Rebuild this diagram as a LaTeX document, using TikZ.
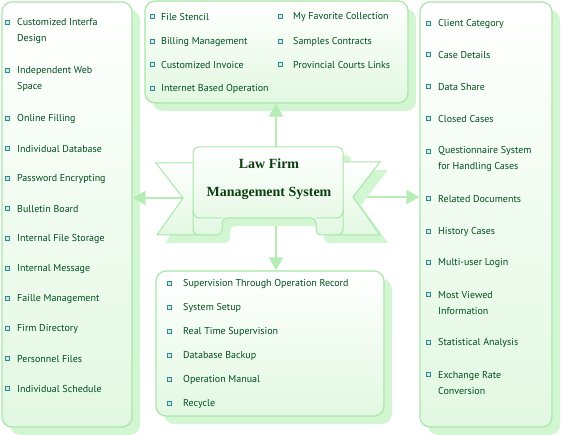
\documentclass[tikz,border=0pt]{standalone}
\usepackage{fontspec}
\setmainfont{PT Sans}
\newfontfamily\titlefont{Liberation Serif}
\usetikzlibrary{arrows.meta,positioning,calc,shadows}
\definecolor{itemgreen}{RGB}{0,78,30}
\definecolor{titlegreen}{RGB}{12,62,16}
\definecolor{edgegreen}{RGB}{168,230,168}
\definecolor{shadegreen}{RGB}{210,246,210}
\definecolor{fillgreen}{RGB}{226,248,226}
\definecolor{linkgreen}{RGB}{182,236,182}
\definecolor{dotteal}{RGB}{46,140,140}

\begin{document}
\begin{tikzpicture}[
    x=1pt, y=-1pt,
    panel/.style={rectangle, rounded corners=10pt, draw=edgegreen, line width=1.2pt, top color=white, bottom color=fillgreen, inner sep=0pt,
        drop shadow={shadow xshift=8pt, shadow yshift=-8pt, fill=shadegreen, opacity=1}},
    item/.style={anchor=west, align=left, inner sep=0pt, text=itemgreen, font=\fontsize{10}{16}\selectfont},
    dot/.style={rectangle, draw=dotteal, fill=dotteal!20, line width=0.8pt, minimum size=4pt, inner sep=0pt},
    link/.style={linkgreen, line width=2pt, -{Triangle[length=13pt, width=14pt]}},
    band/.style={draw=edgegreen, line width=1pt, top color=white, bottom color=fillgreen},
    title/.style={align=center, text=titlegreen, font=\titlefont\bfseries\fontsize{14}{28}\selectfont}
]
    \useasboundingbox (0,0) rectangle (561,435);

    \node[panel, minimum width=130pt, minimum height=425pt] (lbox) at (67,214.5) {};
    \node[panel, minimum width=263pt, minimum height=102pt] (tbox) at (276.5,52) {};
    \node[panel, minimum width=132pt, minimum height=425pt] (rbox) at (486,214.5) {};
    \node[panel, minimum width=228pt, minimum height=145pt] (bbox) at (270,343.5) {};

    \foreach \b/\y/\t [count=\i] in {22/30/Customized Interfa\\Design, 70/78/Independent Web\\Space,
        118/118/Online Filling, 148/148/Individual Database, 178/178/Password Encrypting,
        208/208/Bulletin Board, 238/238/Internal File Storage, 268/268/Internal Message,
        298/298/Faille Management, 328/328/Firm Directory, 358/358/Personnel Files,
        388/388/Individual Schedule}
    {
        \node[dot] (lb\i) at (7,\b) {};
        \node[item] (l\i) at (17,\y+1) {\t};
    }

    \foreach \bx/\tx/\y/\t [count=\i] in {152/161/16/File Stencil, 152/161/41/Billing Management,
        152/161/64/Customized Invoice, 152/161/88/Internet Based Operation,
        280/293/16/My Favorite Collection, 280/293/41/Samples Contracts,
        280/293/64/Provincial Courts Links}
    {
        \node[dot] (tb\i) at (\bx,\y) {};
        \node[item] (t\i) at (\tx,\y+1) {\t};
    }

    \foreach \b/\y/\t [count=\i] in {23/23/Client Category, 54/54/Case Details, 86/86/Data Share,
        118/118/Closed Cases, 151/158.5/Questionnaire System\\for Handling Cases,
        198/198/Related Documents, 231/231/History Cases, 262/262/Multi-user Login,
        294/302/Most Viewed\\Information, 342/342/Statistical Analysis,
        374/382/Exchange Rate\\Conversion}
    {
        \node[dot] (rb\i) at (428,\b) {};
        \node[item] (r\i) at (438,\y+1) {\t};
    }

    \foreach \y/\t [count=\i] in {283/Supervision Through Operation Record, 307/System Setup,
        331/Real Time Supervision, 355/Database Backup, 379/Operation Manual, 403/Recycle}
    {
        \node[dot] (bb\i) at (169,\y) {};
        \node[item] (b\i) at (183,\y+1) {\t};
    }

    \coordinate (lnotch) at (183,198);
    \coordinate (rnotch) at (353,197);
    \coordinate (ribtop) at (276,147);
    \coordinate (ribbot) at (276,218);

    \draw[link] (lnotch) -- (lnotch -| lbox.east);
    \draw[link] (rnotch) -- (rnotch -| rbox.west);
    \draw[link] (ribtop) -- (ribtop |- tbox.south);
    \draw[link] (ribbot) -- (ribbot |- bbox.north);

    \begin{scope}[shift={(8,8)}]
        \fill[shadegreen] (156,163) -- (200,163) -- (200,235) -- (157,235) -- (183,198) -- cycle;
        \fill[shadegreen] (380,162) -- (336,162) -- (336,235) -- (380,235) -- (353,197) -- cycle;
        \fill[shadegreen, rounded corners=5pt] (193,147) -- (343,147) -- (343,235) -- (316,235) -- (316,218)
            -- (222,218) -- (222,235) -- (193,235) -- cycle;
    \end{scope}

    \path[band] (156,163) -- (200,163) -- (200,235) -- (157,235) -- (183,198) -- cycle;
    \path[band] (380,162) -- (336,162) -- (336,235) -- (380,235) -- (353,197) -- cycle;
    \path[band, rounded corners=5pt] (193,147) -- (343,147) -- (343,235) -- (316,235) -- (316,218)
        -- (222,218) -- (222,235) -- (193,235) -- cycle;
    \draw[edgegreen, line width=1pt] (193,211) to[out=270, in=180] (200,218) -- (222,218);
    \draw[edgegreen, line width=1pt] (316,218) -- (336,218) to[out=0, in=270] (343,211);

    \node[title] (sys) at (269,179) {Law Firm\\Management System};
\end{tikzpicture}
\end{document}
